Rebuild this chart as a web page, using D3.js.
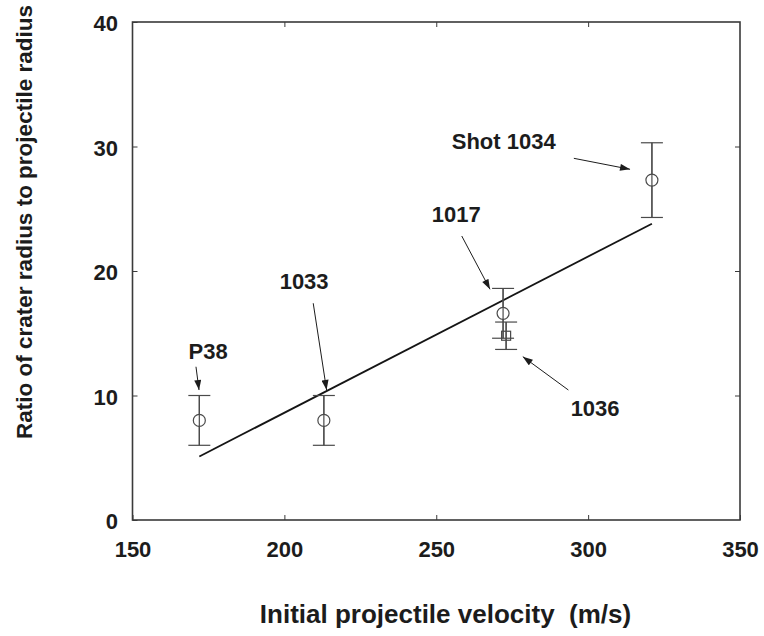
<!DOCTYPE html>
<html>
<head>
<meta charset="utf-8">
<script src="https://cdn.jsdelivr.net/npm/d3@7"></script>
<style>
  html, body { margin: 0; padding: 0; background: #fff; }
  svg { display: block; font-family: "Liberation Sans", Arial, Helvetica, sans-serif; font-weight: bold; }
</style>
</head>
<body>
<svg id="chart" width="764" height="636"></svg>
<script>
// Crater measurements, one entry per shot
const shots      = ["P38", "1033", "1017", "1036", "Shot 1034"];
const velocities = [172, 213, 272, 273, 321];      // m/s
const ratios     = [8.0, 8.0, 16.6, 14.8, 27.3];   // crater radius / projectile radius
const errors     = [2.0, 2.0, 2.0, 1.1, 3.0];
const markers    = ["circle", "circle", "circle", "square", "circle"];

// Linear fit through the shots (end points)
const fitVelocity = [172, 321];
const fitRatio    = [5.1, 23.8];

// Axis ticks
const xTicks = [150, 200, 250, 300, 350];
const yTicks = [0, 10, 20, 30, 40];

// Call-outs: label anchor and arrow, in data units
const callouts = [
  { text: "P38",       lv: 174.9, lr: 12.9,  fv: 170.9, fr: 12.31, tv: 171.9, tr: 10.44 },
  { text: "1033",      lv: 206.5, lr: 18.53, fv: 209.5, fr: 17.41, tv: 213.9, tr: 10.44 },
  { text: "Shot 1034", lv: 272.2, lr: 29.78, fv: 295.3, fr: 29.05, tv: 313.8, tr: 28.17 },
  { text: "1017",      lv: 256.6, lr: 23.96, fv: 258.4, fr: 22.81, tv: 267.7, tr: 18.53 },
  { text: "1036",      lv: 302.3, lr: 8.35,  fv: 293.5, fr: 10.44, tv: 278.5, tr: 13.12 }
];

const svg = d3.select("#chart");
const ink = "#1c1c1c";
const lineInk = "#3a3a3a";

const plot = { left: 132.5, right: 740, top: 22, bottom: 520 };

const x = d3.scaleLinear().domain([150, 350]).range([plot.left, plot.right]);
const y = d3.scaleLinear().domain([0, 40]).range([plot.bottom, plot.top]);

// Arrowhead marker
svg.append("defs").append("marker")
  .attr("id", "head")
  .attr("markerUnits", "userSpaceOnUse")
  .attr("viewBox", "0 0 10 7")
  .attr("refX", 10).attr("refY", 3.5)
  .attr("markerWidth", 11).attr("markerHeight", 7)
  .attr("orient", "auto")
  .append("path").attr("d", "M0,0 L10,3.5 L0,7 Z").attr("fill", ink);

// Bottom axis
const gx = svg.append("g")
  .attr("transform", `translate(0,${plot.bottom})`)
  .call(d3.axisBottom(x).tickValues(xTicks).tickSizeInner(-5).tickSizeOuter(0).tickPadding(21).tickFormat(d3.format("d")));
// Top mirror ticks
const gxt = svg.append("g")
  .attr("transform", `translate(0,${plot.top})`)
  .call(d3.axisTop(x).tickValues(xTicks.slice(1, -1)).tickSizeInner(-5).tickSizeOuter(0).tickFormat(""));
// Left axis
const gy = svg.append("g")
  .attr("transform", `translate(${plot.left},0)`)
  .call(d3.axisLeft(y).tickValues(yTicks).tickSizeInner(-5).tickSizeOuter(0).tickPadding(14.5).tickFormat(d3.format("d")));
// Right mirror ticks
const gyr = svg.append("g")
  .attr("transform", `translate(${plot.right},0)`)
  .call(d3.axisRight(y).tickValues(yTicks.slice(1, -1)).tickSizeInner(-5).tickSizeOuter(0).tickFormat(""));

[gx, gxt, gy, gyr].forEach(g => {
  g.select(".domain").remove();
  g.selectAll(".tick line").attr("stroke", lineInk).attr("stroke-width", 1);
  g.selectAll(".tick text")
    .attr("fill", ink)
    .attr("font-size", 22)
    .attr("font-family", "'Liberation Sans', Arial, Helvetica, sans-serif")
    .attr("font-weight", "bold");
});
gy.selectAll(".tick text").attr("dy", "0.4em");

// Frame
svg.append("rect")
  .attr("x", plot.left).attr("y", plot.top)
  .attr("width", plot.right - plot.left).attr("height", plot.bottom - plot.top)
  .attr("fill", "none").attr("stroke", lineInk).attr("stroke-width", 1.6);

// Fit line
svg.append("line")
  .attr("x1", x(fitVelocity[0])).attr("y1", y(fitRatio[0]))
  .attr("x2", x(fitVelocity[1])).attr("y2", y(fitRatio[1]))
  .attr("stroke", "#151515").attr("stroke-width", 1.8);

// Error bars and markers
const pts = shots.map((s, i) => ({ shot: s, v: velocities[i], r: ratios[i], e: errors[i], m: markers[i] }));
const capHalf = 11;
const bars = svg.append("g").attr("stroke", "#4a4a4a").attr("stroke-width", 1.2).attr("fill", "none");
pts.forEach(p => {
  const cx = x(p.v);
  bars.append("line").attr("x1", cx).attr("x2", cx).attr("y1", y(p.r + p.e)).attr("y2", y(p.r - p.e));
  bars.append("line").attr("x1", cx - capHalf).attr("x2", cx + capHalf).attr("y1", y(p.r + p.e)).attr("y2", y(p.r + p.e));
  bars.append("line").attr("x1", cx - capHalf).attr("x2", cx + capHalf).attr("y1", y(p.r - p.e)).attr("y2", y(p.r - p.e));
  if (p.m === "circle") {
    bars.append("circle").attr("cx", cx).attr("cy", y(p.r)).attr("r", 6).attr("fill", "#fff");
  } else {
    bars.append("rect").attr("x", cx - 4.5).attr("y", y(p.r) - 4.5).attr("width", 9).attr("height", 9).attr("fill", "none");
  }
});
// vertical bar drawn again through the hollow markers
pts.forEach(p => {
  bars.append("line").attr("x1", x(p.v)).attr("x2", x(p.v)).attr("y1", y(p.r + p.e)).attr("y2", y(p.r - p.e));
});

// Call-outs
const co = svg.append("g");
callouts.forEach(c => {
  co.append("line")
    .attr("x1", x(c.fv)).attr("y1", y(c.fr))
    .attr("x2", x(c.tv)).attr("y2", y(c.tr))
    .attr("stroke", ink).attr("stroke-width", 1)
    .attr("marker-end", "url(#head)");
  co.append("text")
    .attr("x", x(c.lv)).attr("y", y(c.lr))
    .attr("text-anchor", "middle")
    .attr("font-size", 22)
    .attr("fill", ink)
    .text(c.text);
});

// Axis titles
svg.append("text")
  .attr("x", 445.5).attr("y", 623)
  .attr("text-anchor", "middle")
  .attr("font-size", 26)
  .attr("fill", ink)
  .text("Initial projectile velocity\u00a0\u00a0(m/s)");

svg.append("text")
  .attr("transform", "translate(32,222) rotate(-90)")
  .attr("text-anchor", "middle")
  .attr("font-size", 22.5)
  .attr("fill", ink)
  .text("Ratio of crater radius to projectile radius");
</script>
</body>
</html>
